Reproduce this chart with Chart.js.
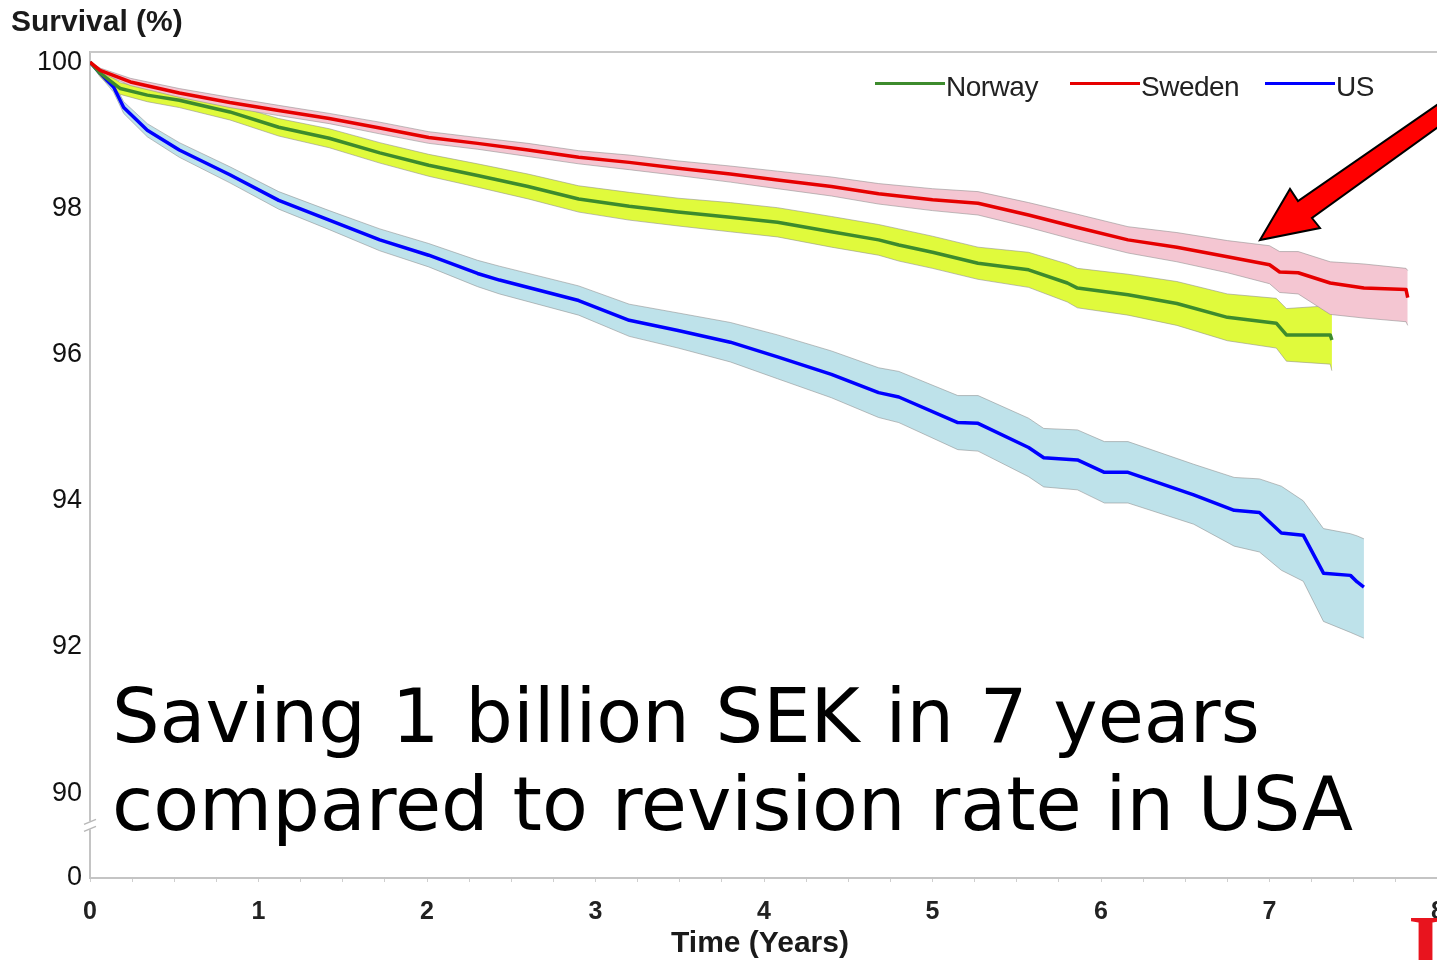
<!DOCTYPE html>
<html><head><meta charset="utf-8">
<script src="https://cdn.jsdelivr.net/npm/chart.js@4.4.0/dist/chart.umd.min.js"></script>
<style>
html,body{margin:0;padding:0;background:#fff;overflow:hidden;width:1437px;height:960px;}
#wrap{position:absolute;left:0;top:0;width:1460px;height:960px;}
.t{position:absolute;white-space:nowrap;font-family:'Liberation Sans',Arial,sans-serif;color:#1a1a1a;line-height:1;}
.lg{position:absolute;height:3px;}
#note{position:absolute;left:112px;top:672px;font-family:'DejaVu Sans',Verdana,sans-serif;font-size:75px;line-height:88px;color:#000;white-space:nowrap;}
</style></head><body>
<div id="wrap"><canvas id="c" width="1460" height="960"></canvas></div>
<div class="t" style="left:11px;top:6px;font-size:30px;font-weight:bold;">Survival (%)</div>
<div class="t" style="left:560px;width:400px;text-align:center;top:927px;font-size:30px;font-weight:bold;">Time (Years)</div>
<div class="lg" style="left:875px;top:82px;width:70px;background:#3d8b2d"></div>
<div class="t" style="left:946px;top:73px;font-size:28px;letter-spacing:-0.5px;color:#222">Norway</div>
<div class="lg" style="left:1070px;top:82px;width:70px;background:#e60000"></div>
<div class="t" style="left:1141px;top:73px;font-size:28px;letter-spacing:-0.5px;color:#222">Sweden</div>
<div class="lg" style="left:1265px;top:82px;width:70px;background:#0000ff"></div>
<div class="t" style="left:1336px;top:73px;font-size:28px;letter-spacing:-0.5px;color:#222">US</div>
<div id="note"><span style="word-spacing:2px">Saving 1 billion SEK in 7 years</span><br>compared to revision rate in USA</div>
<div style="position:absolute;left:1408px;top:903px;font-family:'Liberation Serif',serif;font-weight:bold;font-size:90px;line-height:1;color:#e8141e;">I</div>
<script>
// ---- data ----
const seriesNames = ['Sweden', 'Norway', 'US'];

const seTime = [0,0.06,0.24,0.53,0.83,1.12,1.42,1.72,2.01,2.30,2.60,2.90,3.20,3.49,3.80,4.08,4.40,4.68,5.00,5.27,5.57,5.86,6.16,6.45,6.75,7.00,7.06,7.17,7.36,7.56,7.81,7.82];
const seSurv = [100,99.89,99.73,99.58,99.45,99.34,99.23,99.10,98.97,98.89,98.80,98.70,98.63,98.55,98.47,98.39,98.30,98.20,98.12,98.07,97.91,97.74,97.57,97.47,97.34,97.23,97.13,97.12,96.98,96.91,96.89,96.78];
const seHigh = [100,99.92,99.78,99.64,99.52,99.41,99.30,99.18,99.05,98.97,98.89,98.79,98.73,98.65,98.58,98.51,98.43,98.34,98.27,98.23,98.08,97.92,97.75,97.67,97.56,97.49,97.41,97.41,97.27,97.24,97.18,97.15];
const seLow  = [100,99.86,99.68,99.52,99.38,99.27,99.16,99.02,98.89,98.81,98.71,98.61,98.53,98.45,98.36,98.27,98.17,98.06,97.97,97.91,97.74,97.56,97.39,97.27,97.12,96.97,96.85,96.83,96.55,96.50,96.45,96.40];

const noTime = [0,0.06,0.18,0.34,0.53,0.83,1.12,1.42,1.72,2.01,2.30,2.60,2.90,3.20,3.49,3.80,4.08,4.40,4.68,4.80,5.00,5.27,5.57,5.80,5.86,6.16,6.45,6.75,7.04,7.10,7.36,7.37];
const noSurv = [100,99.85,99.64,99.55,99.48,99.32,99.11,98.96,98.76,98.59,98.45,98.30,98.13,98.03,97.95,97.88,97.81,97.68,97.57,97.50,97.40,97.25,97.16,96.98,96.91,96.82,96.70,96.51,96.43,96.27,96.27,96.20];
const noHigh = [100,99.90,99.72,99.64,99.58,99.43,99.23,99.09,98.90,98.74,98.61,98.47,98.31,98.22,98.14,98.08,98.01,97.89,97.78,97.72,97.62,97.47,97.40,97.24,97.18,97.10,97.00,96.83,96.77,96.63,96.67,96.62];
const noLow  = [100,99.80,99.56,99.46,99.38,99.21,98.99,98.83,98.62,98.44,98.29,98.13,97.95,97.84,97.76,97.68,97.61,97.47,97.36,97.28,97.18,97.03,96.92,96.72,96.64,96.54,96.40,96.19,96.09,95.91,95.87,95.78];

const usTime = [0,0.06,0.14,0.20,0.34,0.53,0.83,1.12,1.42,1.72,2.01,2.30,2.43,2.90,3.20,3.49,3.80,4.08,4.40,4.68,4.80,5.15,5.27,5.57,5.66,5.86,6.02,6.16,6.55,6.79,6.94,7.07,7.20,7.32,7.48,7.52,7.56];
const usSurv = [100,99.85,99.66,99.38,99.07,98.80,98.46,98.11,97.84,97.57,97.36,97.11,97.02,96.74,96.47,96.33,96.17,95.97,95.73,95.48,95.42,95.07,95.06,94.73,94.59,94.56,94.39,94.39,94.08,93.87,93.84,93.56,93.53,93.01,92.98,92.89,92.82];
const usHigh = [100,99.89,99.73,99.46,99.16,98.90,98.57,98.23,97.97,97.72,97.52,97.29,97.21,96.94,96.69,96.57,96.44,96.27,96.05,95.82,95.77,95.44,95.44,95.13,94.99,94.97,94.81,94.81,94.50,94.32,94.30,94.20,94.00,93.62,93.55,93.52,93.48];
const usLow  = [100,99.81,99.59,99.30,98.98,98.70,98.35,97.99,97.71,97.42,97.20,96.93,96.83,96.54,96.25,96.09,95.90,95.67,95.41,95.14,95.07,94.70,94.68,94.33,94.19,94.15,93.97,93.97,93.68,93.38,93.30,93.05,92.90,92.35,92.20,92.16,92.12];

const xTickYears = [0,1,2,3,4,5,6,7,8];
const yTickValues = [90,92,94,96,98,100];
const yBreakValue = 88.84;   // bottom of broken axis, labelled "0"
const yTopValue = 100.14;

// ---- chart ----
const pts = (t, v) => t.map((x, i) => ({x: x, y: v[i]}));
const lineDs = (label, t, v, color) => ({label, data: pts(t, v), borderColor: color, borderWidth: 3.5,
  pointRadius: 0, fill: false, tension: 0, borderJoinStyle: 'round'});
const hiDs = (label, t, v) => ({label, data: pts(t, v), borderColor: 'rgba(140,140,140,0.55)', borderWidth: 1,
  pointRadius: 0, fill: false, tension: 0});
const loDs = (label, t, v, bg) => ({label, data: pts(t, v), borderColor: 'rgba(140,140,140,0.55)', borderWidth: 1,
  pointRadius: 0, fill: '-1', backgroundColor: bg, tension: 0});

const decor = {
  id: 'decor',
  afterDraw(chart) {
    const ctx = chart.ctx, a = chart.chartArea;
    ctx.save();
    ctx.strokeStyle = '#c8c8c8'; ctx.lineWidth = 2;
    ctx.beginPath(); ctx.moveTo(a.left, a.top); ctx.lineTo(chart.width, a.top); ctx.stroke();
    const yb = chart.scales.y.getPixelForValue(89.56);
    ctx.fillStyle = '#fff';
    ctx.fillRect(a.left - 5, yb - 4, 10, 8);
    ctx.strokeStyle = '#b8b8b8'; ctx.lineWidth = 1.5;
    ctx.beginPath();
    ctx.moveTo(a.left - 6, yb - 1); ctx.lineTo(a.left + 6, yb - 6);
    ctx.moveTo(a.left - 6, yb + 6); ctx.lineTo(a.left + 6, yb + 1);
    ctx.stroke();
    ctx.beginPath();
    ctx.moveTo(1260, 240);
    ctx.lineTo(1290, 189);
    ctx.lineTo(1298, 201);
    ctx.lineTo(1470, 82);
    ctx.lineTo(1470, 104);
    ctx.lineTo(1312, 218);
    ctx.lineTo(1320, 228);
    ctx.closePath();
    ctx.fillStyle = '#ff0000'; ctx.fill();
    ctx.strokeStyle = '#000'; ctx.lineWidth = 2; ctx.lineJoin = 'miter'; ctx.stroke();
    ctx.restore();
  }
};

new Chart(document.getElementById('c'), {
  type: 'line',
  data: {
    datasets: [
      lineDs(seriesNames[0], seTime, seSurv, '#e60000'),
      lineDs(seriesNames[1], noTime, noSurv, '#3d8b2d'),
      lineDs(seriesNames[2], usTime, usSurv, '#0000ff'),
      hiDs('Sweden upper', seTime, seHigh),
      loDs('Sweden lower', seTime, seLow, 'rgb(244,198,210)'),
      hiDs('Norway upper', noTime, noHigh),
      loDs('Norway lower', noTime, noLow, 'rgb(224,250,60)'),
      hiDs('US upper', usTime, usHigh),
      loDs('US lower', usTime, usLow, 'rgb(190,226,234)')
    ]
  },
  options: {
    responsive: false,
    devicePixelRatio: 1,
    animation: false,
    layout: {padding: {top: 52, right: 19, left: 0, bottom: 0}},
    plugins: {legend: {display: false}, tooltip: {enabled: false}},
    scales: {
      x: {
        type: 'linear', min: 0, max: 8,
        afterFit: s => { s.height = 82; },
        afterBuildTicks: s => {
          const arr = [];
          for (let i = 0; i <= 32; i++) arr.push({value: i * 0.25});
          s.ticks = arr;
        },
        ticks: {
          autoSkip: false, maxRotation: 0, padding: 15,
          color: '#222', font: {family: 'Liberation Sans', size: 25, weight: 'bold'},
          callback: v => (xTickYears.includes(v) ? String(v) : '')
        },
        grid: {drawOnChartArea: false, drawTicks: true, tickLength: 4, color: '#cfcfcf', lineWidth: 1},
        border: {display: true, color: '#c4c4c4', width: 2}
      },
      y: {
        type: 'linear', min: yBreakValue, max: yTopValue,
        afterFit: s => { s.width = 90; },
        afterBuildTicks: s => {
          s.ticks = [{value: yBreakValue}].concat(yTickValues.map(v => ({value: v})));
        },
        ticks: {
          padding: 8, color: '#111', font: {family: 'Liberation Sans', size: 27},
          callback: v => (v < 89 ? '0' : String(v))
        },
        grid: {display: false, drawTicks: false},
        border: {display: true, color: '#c4c4c4', width: 2}
      }
    }
  },
  plugins: [decor]
});
</script>
</body></html>
